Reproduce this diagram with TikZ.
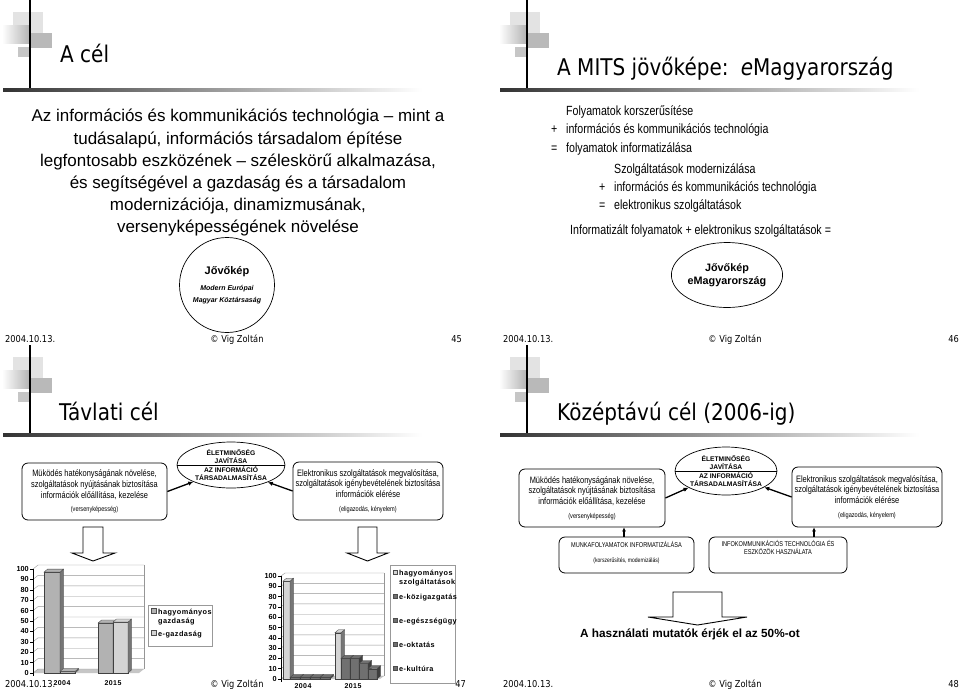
\documentclass[tikz,border=0pt]{standalone}
\usepackage{fontspec}
\setmainfont{Liberation Sans}
\newfontfamily\titlefont[FakeStretch=0.87]{DejaVu Sans}
\newfontfamily\narrowfont[FakeStretch=0.8]{Liberation Sans}
\newfontfamily\legendfont[LetterSpace=6]{Liberation Sans}
\usetikzlibrary{positioning,arrows.meta,shapes.geometric}
\definecolor{barmid}{RGB}{178,178,178}
\definecolor{barlight}{RGB}{212,212,212}
\definecolor{barside}{RGB}{118,118,118}
\definecolor{bardark}{RGB}{112,112,112}
\definecolor{bardarkside}{RGB}{62,62,62}
\definecolor{gridgray}{RGB}{150,150,150}

% slide corner: grey squares, vertical bar and the fading rule
\newcommand\slidedecor[2]{%
  \fill[gray!22] (#1-17,#2+12) rectangle (#1+13,#2+35);
  \shade[left color=white,right color=gray!60] (#1-28,#2+25) rectangle (#1,#2+43);
  \fill[gray!55] (#1+1,#2+33) rectangle (#1+22,#2+48);
  \fill[gray!45] (#1-12,#2+47) rectangle (#1,#2+57);
  \draw[line width=1.2pt] (#1,#2) -- (#1,#2+90);
  \shade[left color=black!80,right color=white] (#1-27,#2+88.3) rectangle (#1+392,#2+91.7);
}
% x1, x2, base, top, front colour, side colour
\newcommand\threedbar[6]{%
  \filldraw[fill=#5,draw=black!75,line width=0.3pt] (#1,#3) rectangle (#2,#4);
  \filldraw[fill=#6,draw=black!75,line width=0.3pt] (#2,#3) -- (#2+3.5,#3-3) -- (#2+3.5,#4-3) -- (#2,#4) -- cycle;
  \filldraw[fill=#5,draw=black!75,line width=0.3pt] (#1,#4) -- (#1+3.5,#4-3) -- (#2+3.5,#4-3) -- (#2,#4) -- cycle;
}

\begin{document}
\begin{tikzpicture}[x=1pt,y=-1pt,
    slidetitle/.style={anchor=base west,inner sep=0pt,font=\titlefont\fontsize{23}{27}\selectfont},
    footer/.style={inner sep=0pt,font=\titlefont\fontsize{9.5}{12}\selectfont},
    bodyline/.style={anchor=base west,inner sep=0pt,font=\narrowfont\fontsize{13.3}{15}\selectfont},
    infobox/.style={draw,rounded corners=6pt,line width=0.8pt,align=center,inner sep=2pt,
      font=\narrowfont\fontsize{9.3}{10.6}\selectfont},
    capsbox/.style={draw,rounded corners=6pt,line width=0.8pt,inner sep=0pt},
    capstext/.style={align=center,inner sep=0pt,font=\narrowfont\fontsize{7}{7.5}\selectfont},
    goalell/.style={draw,ellipse,line width=0.7pt,inner sep=0pt},
    elltext/.style={align=center,inner sep=0pt,font=\bfseries\fontsize{6.7}{8}\selectfont},
    linkarrow/.style={-{Latex[length=5pt,width=4.5pt]},line width=1.3pt},
    blockarrow/.style={draw,line width=0.9pt,fill=white,line join=miter},
    axislabel/.style={anchor=east,inner sep=0pt,font=\bfseries\fontsize{7.3}{8}\selectfont},
    catlabel/.style={anchor=base,inner sep=0pt,font=\legendfont\bfseries\fontsize{7}{8}\selectfont},
    legendtext/.style={anchor=base west,inner sep=0pt,font=\legendfont\bfseries\fontsize{7.3}{8}\selectfont},
    legendbox/.style={draw=gray!80,line width=0.5pt,inner sep=0pt},
  ]
  \useasboundingbox[fill=white] (0,0) rectangle (959,691);

  %% slide 45
  \slidedecor{30}{0}
  \node[slidetitle] (t45) at (60,62) {A cél};
  \node[align=center,inner sep=0pt,font=\fontsize{17}{22.2}\selectfont] (aim45) at (238,173)
    {Az információs és kommunikációs technológia -- mint a\\
     tudásalapú, információs társadalom építése\\
     legfontosabb eszközének -- széleskörű alkalmazása,\\
     és segítségével a gazdaság és a társadalom\\
     modernizációja, dinamizmusának,\\
     versenyképességének növelése};
  \node[draw,circle,line width=0.7pt,minimum size=95pt,inner sep=0pt,align=center] (vis45) at (227,285)
    {{\bfseries\fontsize{11}{13}\selectfont Jővőkép}\\[4pt]
     {\bfseries\itshape\fontsize{7}{9}\selectfont Modern Európai}\\
     {\bfseries\itshape\fontsize{7}{9}\selectfont Magyar Köztársaság}};
  \node[footer,anchor=base west] (d45) at (5,342) {2004.10.13.};
  \node[footer,anchor=base] (c45) at (237,342) {© Vig Zoltán};
  \node[footer,anchor=base east] (p45) at (462,342) {45};

  %% slide 46
  \slidedecor{527}{0}
  \node[slidetitle] (t46) at (557,75) {A MITS jövőképe:\, \textit{e}Magyarország};
  \node[bodyline] (f1) at (566,115) {Folyamatok korszerűsítése};
  \node[bodyline] (f2s) at (551,133) {+};
  \node[bodyline] (f2) at (566,133) {információs és kommunikációs technológia};
  \node[bodyline] (f3s) at (551,152) {=};
  \node[bodyline] (f3) at (566,152) {folyamatok informatizálása};
  \node[bodyline] (s1) at (614,173) {Szolgáltatások modernizálása};
  \node[bodyline] (s2s) at (599,191) {+};
  \node[bodyline] (s2) at (614,191) {információs és kommunikációs technológia};
  \node[bodyline] (s3s) at (599,209) {=};
  \node[bodyline] (s3) at (614,209) {elektronikus szolgáltatások};
  \node[bodyline] (sum46) at (570,234) {Informatizált folyamatok + elektronikus szolgáltatások =};
  \node[goalell,minimum width=96pt,minimum height=65pt,align=center,
        font=\bfseries\fontsize{10.8}{13}\selectfont] (vis46) at (727,275) {Jővőkép\\eMagyarország};
  \node[footer,anchor=base west] (d46) at (503,342) {2004.10.13.};
  \node[footer,anchor=base] (c46) at (735,342) {© Vig Zoltán};
  \node[footer,anchor=base east] (p46) at (959,342) {46};

  %% slide 47
  \slidedecor{30}{345}
  \node[slidetitle] (t47) at (59,420) {Távlati cél};
  \node[goalell,minimum width=108pt,minimum height=46pt] (ell47) at (231,465) {};
  \draw[line width=0.7pt] (ell47.west) -- (ell47.east);
  \node[elltext,above=1.5pt of ell47.center] (up47) {ÉLETMINŐSÉG\\JAVÍTÁSA};
  \node[elltext,below=1.5pt of ell47.center] (lo47) {AZ INFORMÁCIÓ\\TÁRSADALMASÍTÁSA};
  \node[infobox,minimum width=145pt,minimum height=57pt] (eff47) at (94.5,491.5)
    {Müködés hatékonyságának növelése,\\szolgáltatások nyújtásának biztosítása\\
     információk előállítása, kezelése\\[3pt]{\fontsize{7}{8}\selectfont(versenyképesség)}};
  \node[infobox,minimum width=150pt,minimum height=58pt] (svc47) at (368,491)
    {Elektronikus szolgáltatások megvalósítása,\\szolgáltatások igénybevételének biztosítása\\
     információk elérése\\[3pt]{\fontsize{7}{8}\selectfont(eligazodás, kényelem)}};
  \draw[linkarrow] (eff47.east) -- (ell47.204);
  \draw[linkarrow] (svc47.west) -- (ell47.-25);
  \draw[blockarrow] (83,527) -- (83,553) -- (72,553) -- (93,561) -- (115,553) -- (103,553) -- (103,527) -- cycle;
  \draw[blockarrow] (358,527) -- (358,553) -- (347,553) -- (367.5,561) -- (388,553) -- (377,553) -- (377,527) -- cycle;

  % chart: gazdaság
  \fill[gray!45] (33,673) -- (139,673) -- (144,669) -- (38,669) -- cycle;
  \foreach \v in {0,10,...,100} {
    \draw[gridgray,line width=0.4pt] (33,673-1.04*\v) -- (38,669-1.04*\v) -- (144,669-1.04*\v);
    \draw[line width=0.5pt] (30,673-1.04*\v) -- (33,673-1.04*\v);
    \node[axislabel] (ya\v) at (29,673-1.04*\v) {\v};
  }
  \draw[gridgray,line width=0.4pt] (144,565) -- (144,669);
  \draw[line width=0.6pt] (33,569) -- (33,676);
  \threedbar{44}{60}{673}{673-1.04*97}{barmid}{barside}
  \threedbar{60}{75}{673}{673-1.04*1.5}{barmid}{barside}
  \threedbar{98}{113}{673}{673-1.04*48}{barmid}{barside}
  \threedbar{113}{128}{673}{673-1.04*49}{barlight}{barside}
  \node[catlabel] (xa1) at (62,685) {2004};
  \node[catlabel] (xa2) at (113,685) {2015};
  \node[legendbox,minimum width=64pt,minimum height=41pt] (leg47a) at (180,625.5) {};
  \filldraw[fill=barmid,draw=black!70,line width=0.3pt] (151.5,608.5) rectangle (156.5,613.5);
  \node[legendtext] (lga1) at (158,614) {hagyományos};
  \node[legendtext] (lga2) at (158,623.5) {gazdaság};
  \filldraw[fill=barlight,draw=black!70,line width=0.3pt] (151.5,630.5) rectangle (156.5,635.5);
  \node[legendtext] (lga3) at (158,636) {e-gazdaság};

  % chart: szolgáltatások
  \fill[gray!45] (281,679) -- (380,679) -- (384,676) -- (285,676) -- cycle;
  \foreach \v in {0,10,...,100} {
    \draw[gridgray,line width=0.4pt] (281,679-1.03*\v) -- (285,676-1.03*\v) -- (384,676-1.03*\v);
    \draw[line width=0.5pt] (278,679-1.03*\v) -- (281,679-1.03*\v);
    \node[axislabel] (yb\v) at (277,679-1.03*\v) {\v};
  }
  \draw[gridgray,line width=0.4pt] (384,573) -- (384,676);
  \draw[line width=0.6pt] (281,576) -- (281,682);
  \threedbar{283}{290}{679}{679-1.03*95}{barlight}{barside}
  \foreach \i in {0,1,2,3} {
    \threedbar{290+10*\i}{300+10*\i}{679}{679-1.03*1.5}{bardark}{bardarkside}
  }
  \threedbar{335}{341}{679}{679-1.03*45}{barlight}{barside}
  \threedbar{341}{350}{679}{679-1.03*20}{bardark}{bardarkside}
  \threedbar{350}{359}{679}{679-1.03*20}{bardark}{bardarkside}
  \threedbar{359}{368}{679}{679-1.03*15}{bardark}{bardarkside}
  \threedbar{368}{377}{679}{679-1.03*10}{bardark}{bardarkside}
  \node[catlabel] (xb1) at (303,688) {2004};
  \node[catlabel] (xb2) at (353,688) {2015};
  \node[legendbox,minimum width=65pt,minimum height=118pt] (leg47b) at (422.5,624) {};
  \filldraw[fill=barlight,draw=black!70,line width=0.3pt] (393,570) rectangle (397.5,574.5);
  \node[legendtext] (lgb1) at (399,575) {hagyományos};
  \node[legendtext] (lgb2) at (399,584.5) {szolgáltatások};
  \foreach \t/\y in {e-közigazgatás/599,e-egészségügy/623,e-oktatás/647,e-kultúra/671} {
    \filldraw[fill=bardark,draw=black!70,line width=0.3pt] (393,\y-5) rectangle (397.5,\y-0.5);
    \node[legendtext] (lgb\y) at (399,\y) {\t};
  }
  \node[footer,anchor=base west] (d47) at (5,687) {2004.10.13.};
  \node[footer,anchor=base] (c47) at (237,687) {© Vig Zoltán};
  \node[footer,anchor=base east] (p47) at (466,687) {47};

  %% slide 48
  \slidedecor{527}{345}
  \node[slidetitle] (t48) at (557,420) {Középtávú cél (2006-ig)};
  \node[goalell,minimum width=102pt,minimum height=48pt] (ell48) at (726,471) {};
  \draw[line width=0.7pt] (ell48.west) -- (ell48.east);
  \node[elltext,above=1.5pt of ell48.center] (up48) {ÉLETMINŐSÉG\\JAVÍTÁSA};
  \node[elltext,below=1.5pt of ell48.center] (lo48) {AZ INFORMÁCIÓ\\TÁRSADALMASÍTÁSA};
  \node[infobox,minimum width=146pt,minimum height=58pt] (eff48) at (592,498)
    {Müködés hatékonyságának növelése,\\szolgáltatások nyújtásának biztosítása\\
     információk előállítása, kezelése\\[3pt]{\fontsize{7}{8}\selectfont(versenyképesség)}};
  \node[infobox,minimum width=150pt,minimum height=60pt] (svc48) at (867,497)
    {Elektronikus szolgáltatások megvalósítása,\\szolgáltatások igénybevételének biztosítása\\
     információk elérése\\[3pt]{\fontsize{7}{8}\selectfont(eligazodás, kényelem)}};
  \draw[linkarrow] (eff48.east) -- (ell48.204);
  \draw[linkarrow] (svc48.west) -- (ell48.-23);
  \node[capsbox,minimum width=135pt,minimum height=36pt] (proc48) at (626.5,555) {};
  \node[capstext,below=5pt of proc48.north] (proclbl)
    {MUNKAFOLYAMATOK INFORMATIZÁLÁSA\\[7pt]{\fontsize{6.3}{7}\selectfont(korszerűsítés, modernizálás)}};
  \node[capsbox,minimum width=138pt,minimum height=36pt] (ict48) at (778,555) {};
  \node[capstext,below=4pt of ict48.north] (ictlbl) {INFOKOMMUNIKÁCIÓS TECHNOLÓGIA ÉS\\ESZKÖZÖK HASZNÁLATA};
  \draw[linkarrow,-{Latex[length=4pt,width=4pt]}] ([xshift=-2.5pt]proc48.north) -- ([xshift=-2.5pt]proc48.north |- eff48.south);
  \draw[linkarrow,-{Latex[length=4pt,width=4pt]}] ([xshift=36pt]ict48.north) -- ([xshift=36pt]ict48.north |- svc48.south);
  \draw[blockarrow] (673,592) -- (673,617) -- (648,617) -- (697.5,625) -- (747,617) -- (722,617) -- (722,592) -- cycle;
  \node[anchor=base,inner sep=0pt,font=\bfseries\fontsize{11.8}{14}\selectfont] (goal48) at (690,637)
    {A használati mutatók érjék el az 50\%-ot};
  \node[footer,anchor=base west] (d48) at (503,687) {2004.10.13.};
  \node[footer,anchor=base] (c48) at (735,687) {© Vig Zoltán};
  \node[footer,anchor=base east] (p48) at (959,687) {48};
\end{tikzpicture}
\end{document}
